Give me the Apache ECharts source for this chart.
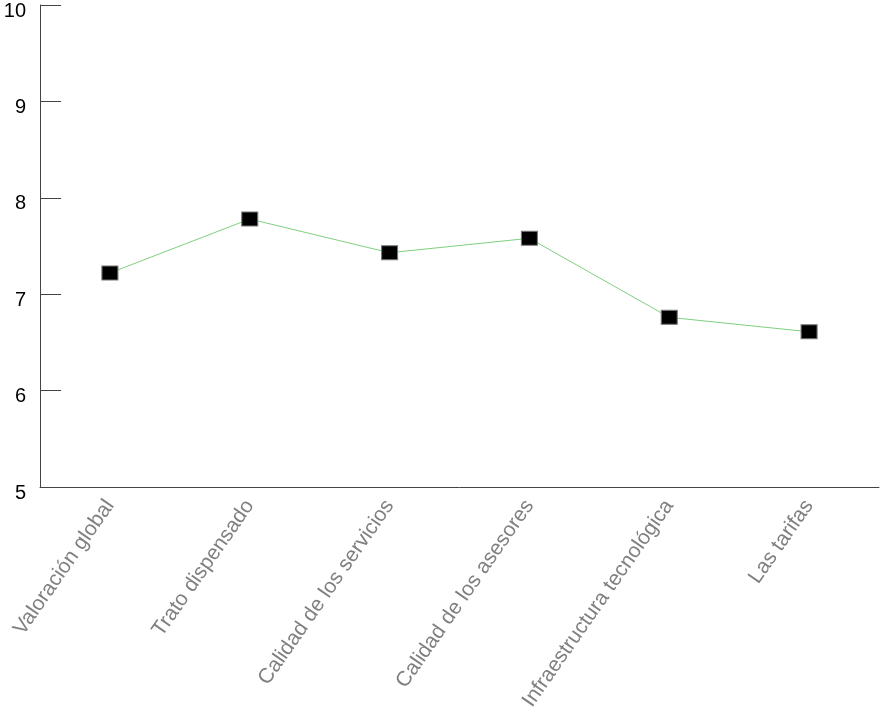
<!DOCTYPE html>
<html>
<head>
<meta charset="utf-8">
<script src="https://cdn.jsdelivr.net/npm/echarts@6/dist/echarts.min.js"></script>
<style>html,body{margin:0;padding:0;background:#fff}#c{width:881px;height:721px}</style>
</head>
<body>
<div id="c"></div>
<script>
const categories = ["Valoración global", "Trato dispensado", "Calidad de los servicios", "Calidad de los asesores", "Infraestructura tecnológica", "Las tarifas"];
const values = [7.22, 7.78, 7.43, 7.58, 6.76, 6.61];
const yTicks = [5, 6, 7, 8, 9, 10];

const chart = echarts.init(document.getElementById('c'), null, {renderer: 'canvas'});
chart.setOption({
  animation: false,
  backgroundColor: '#ffffff',
  grid: {left: 40, right: 2, top: 5, bottom: 234, containLabel: false, outerBoundsMode: 'none'},
  xAxis: {
    type: 'category',
    data: categories,
    boundaryGap: true,
    axisLine: {lineStyle: {color: '#444', width: 1}},
    axisTick: {inside: true, length: 12, lineStyle: {color: '#444'}},
    axisLabel: {
      rotate: 55, margin: 15, color: '#808080',
      fontFamily: 'Liberation Sans, Arial, sans-serif', fontSize: 21
    }
  },
  yAxis: {
    type: 'value',
    min: yTicks[0], max: yTicks[yTicks.length - 1], interval: 1,
    splitLine: {show: false},
    axisLine: {show: true, lineStyle: {color: '#444', width: 1}},
    axisTick: {show: true, inside: true, length: 21, lineStyle: {color: '#444'}},
    axisLabel: {
      margin: 14, color: '#000',
      fontFamily: 'Liberation Sans, Arial, sans-serif', fontSize: 20,
      verticalAlign: 'top', lineHeight: 12
    }
  },
  series: [{
    type: 'line',
    data: values,
    symbol: 'rect',
    symbolSize: [16, 14],
    lineStyle: {color: '#7fd07f', width: 1},
    itemStyle: {color: '#000', borderColor: '#777', borderWidth: 1},
    label: {show: false}
  }]
});
</script>
</body>
</html>
